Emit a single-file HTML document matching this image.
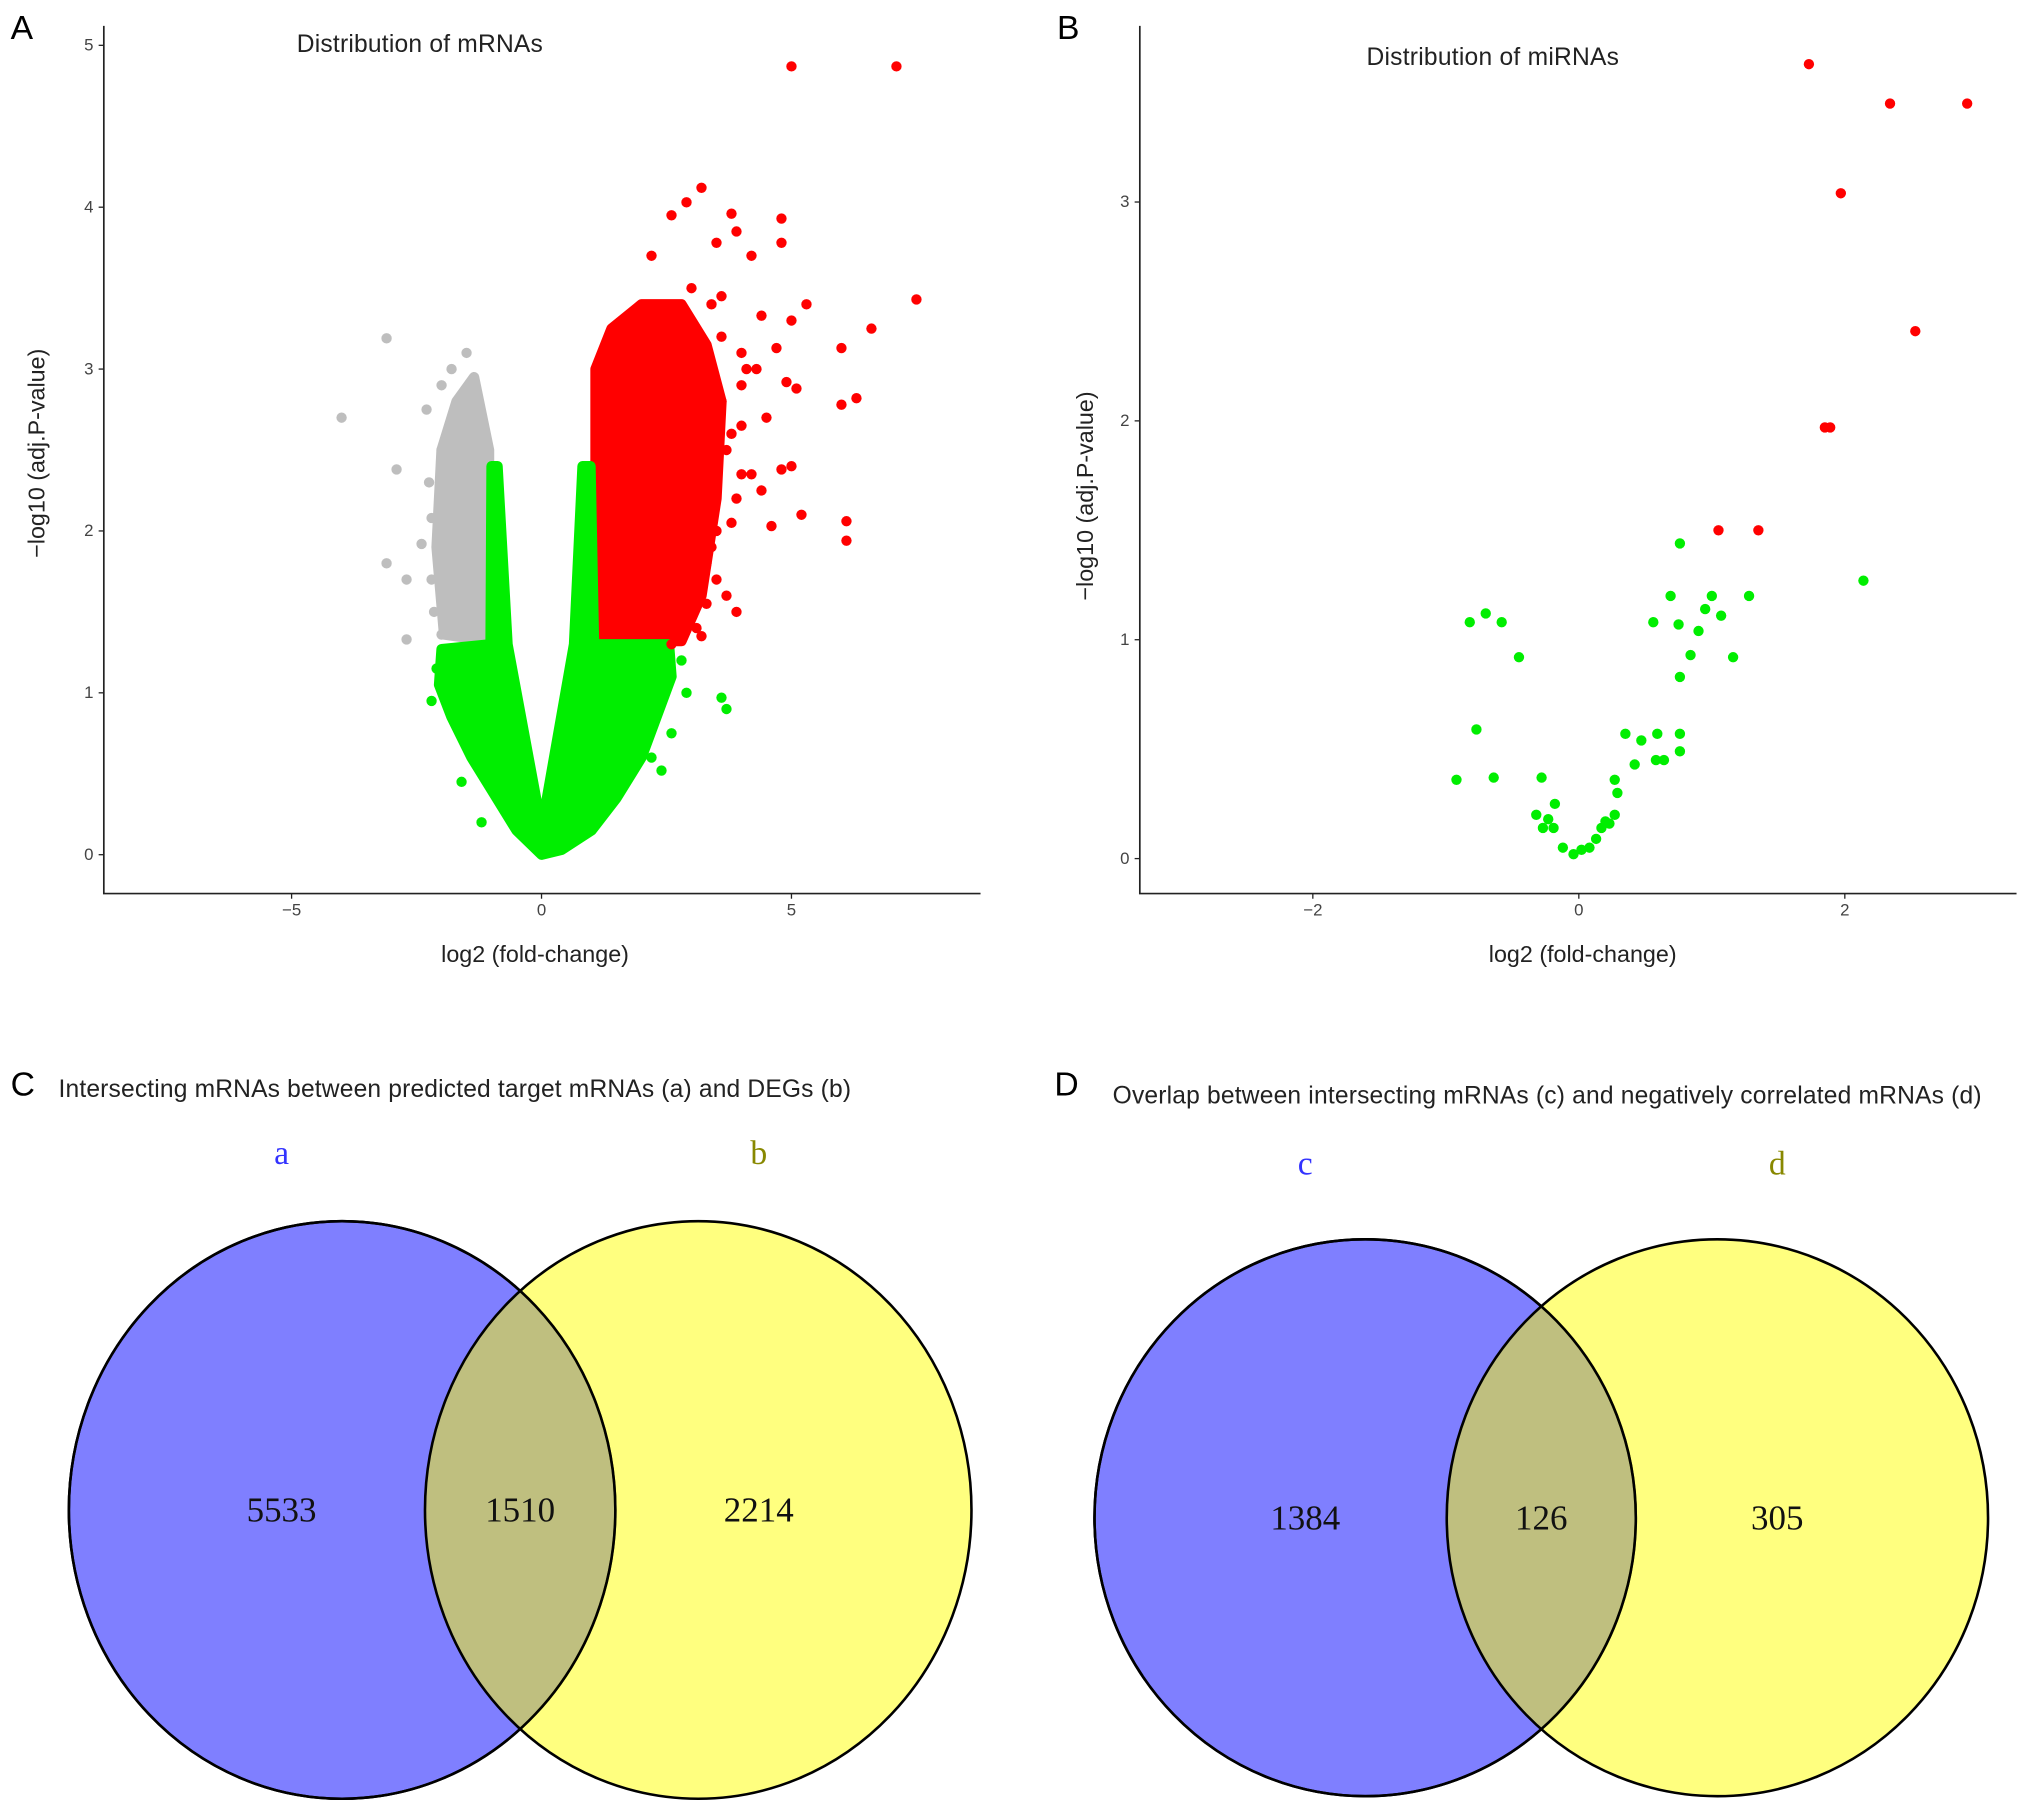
<!DOCTYPE html>
<html><head><meta charset="utf-8"><style>
html,body{margin:0;padding:0;background:#fff;}
svg{display:block;font-family:"Liberation Sans",sans-serif;}
</style></head><body>
<svg id="fig" width="2031" height="1813" viewBox="0 0 1568 1400" xmlns="http://www.w3.org/2000/svg">
<rect width="1568" height="1400" fill="#fff"/>
<text x="8" y="30" font-size="26" fill="#000">A</text>
<text x="816" y="30" font-size="26" fill="#000">B</text>
<text x="8" y="846" font-size="26" fill="#000">C</text>
<text x="814" y="846" font-size="26" fill="#000">D</text>
<text x="229" y="40" font-size="19" fill="#222" textLength="190">Distribution of mRNAs</text>
<text x="1055" y="50" font-size="19" fill="#222" textLength="195">Distribution of miRNAs</text>
<text x="413" y="743" font-size="18" text-anchor="middle" fill="#222">log2  (fold-change)</text>
<text x="1222" y="743" font-size="18" text-anchor="middle" fill="#222">log2  (fold-change)</text>
<text transform="translate(34,350) rotate(-90)" font-size="18" text-anchor="middle" fill="#222">−log10 (adj.P-value)</text>
<text transform="translate(844,383) rotate(-90)" font-size="18" text-anchor="middle" fill="#222">−log10 (adj.P-value)</text>
<text x="45" y="847" font-size="19" fill="#222" textLength="612">Intersecting mRNAs between predicted target mRNAs (a) and DEGs (b)</text>
<text x="859" y="852" font-size="19" fill="#222" textLength="671">Overlap between intersecting mRNAs (c) and negatively correlated mRNAs (d)</text>
<g id="gA"></g>
<g id="gB"></g>
<g id="gV"></g>
</svg>
<script>
// ---- Panel A data (log2FC, -log10 adj.P) ----
const aGreenEnvelope=[[0,0],[-0.5,0.15],[-1,0.4],[-1.4,0.6],[-1.8,0.85],[-2.05,1.05],[-2.0,1.27],[-1.02,1.3],[-1.0,2.4],[-0.88,2.4],[-0.68,1.3],[-0.08,0.3],[0,0.25],[0.08,0.3],[0.65,1.3],[0.82,2.4],[0.98,2.4],[1.05,1.3],[2.55,1.3],[2.6,1.1],[2.3,0.85],[2.0,0.6],[1.5,0.35],[1.0,0.15],[0.4,0.03]];
const aRedEnvelope=[[1.08,1.32],[1.08,3.0],[1.4,3.25],[2.0,3.4],[2.8,3.4],[3.3,3.15],[3.6,2.8],[3.5,2.2],[3.2,1.6],[2.8,1.32]];
const aGreyEnvelope=[[-1.05,1.32],[-1.95,1.36],[-2.1,1.9],[-2.0,2.5],[-1.7,2.8],[-1.35,2.95],[-1.05,2.5]];
const aRedX=[5,7.1,3.2,2.9,2.6,3.8,4.8,4.8,3.5,3.9,7.5,5.3,6.6,5.0,4.4,6.0,4.7,5.1,6.3,6.0,4.9,4.5,4.0,5.0,4.8,5.2,6.1,6.1,4.6,3.9,3.3,3.5,4.0,4.2,3.8,4.0,4.1,3.6,3.4,3.0,2.2,4.2,3.6,3.8,4.4,3.2,3.4,3.1,2.6,3.7,3.9,4.3,3.3,3.7,2.9,3.5,3.6,4.0,3.2,2.7];
const aRedY=[4.87,4.87,4.12,4.03,3.95,3.96,3.93,3.78,3.78,3.85,3.43,3.4,3.25,3.3,3.33,3.13,3.13,2.88,2.82,2.78,2.92,2.7,2.9,2.4,2.38,2.1,2.06,1.94,2.03,1.5,1.55,1.7,2.35,2.35,2.05,3.1,3.0,2.8,3.4,3.5,3.7,3.7,3.2,2.6,2.25,2.2,1.9,1.4,1.3,2.5,2.2,3.0,1.8,1.6,1.5,2.0,3.45,2.65,1.35,1.4];
const aGreyX=[-4,-3.1,-2.9,-3.1,-2.7,-2.7,-2.2,-2.0,-1.5,-2.3,-2.0,-2.4,-2.2,-2.0,-2.25,-2.15,-1.8];
const aGreyY=[2.7,3.19,2.38,1.8,1.7,1.33,2.08,2.5,3.1,2.75,2.9,1.92,1.7,1.36,2.3,1.5,3.0];
const aGreenX=[3.6,3.7,2.8,2.9,2.4,2.6,-2.1,-2.2,-1.6,1.6,2.2,-1.2,1.1];
const aGreenY=[0.97,0.9,1.2,1.0,0.52,0.75,1.15,0.95,0.45,0.45,0.6,0.2,0.2];
const aXTicks=[-5,0,5];
const aYTicks=[0,1,2,3,4,5];
// ---- Panel B data ----
const bRedX=[1.73,2.34,2.92,1.97,2.53,1.85,1.89,1.05,1.35];
const bRedY=[3.63,3.45,3.45,3.04,2.41,1.97,1.97,1.50,1.50];
const bGreenX=[2.14,0.76,1.0,0.69,1.28,0.95,1.07,0.56,0.75,0.90,0.84,1.16,0.76,-0.70,-0.82,-0.58,-0.45,-0.77,-0.92,-0.64,-0.28,0.35,0.59,0.76,0.47,0.42,0.58,0.64,0.76,0.27,0.29,0.27,0.23,0.17,0.13,0.08,-0.04,0.02,-0.12,-0.19,-0.23,-0.32,-0.18,-0.27,0.2];
const bGreenY=[1.27,1.44,1.20,1.20,1.20,1.14,1.11,1.08,1.07,1.04,0.93,0.92,0.83,1.12,1.08,1.08,0.92,0.59,0.36,0.37,0.37,0.57,0.57,0.57,0.54,0.43,0.45,0.45,0.49,0.36,0.30,0.20,0.16,0.14,0.09,0.05,0.02,0.04,0.05,0.14,0.18,0.20,0.25,0.14,0.17];
const bXTicks=[-2,0,2];
const bYTicks=[0,1,2,3];
// ---- Venn data ----
const vennC=[5533,1510,2214];
const vennD=[1384,126,305];

const NS="http://www.w3.org/2000/svg";
function mk(tag,attrs,parent){const e=document.createElementNS(NS,tag);for(const k in attrs)e.setAttribute(k,attrs[k]);parent.appendChild(e);return e;}

function panel(g,cfg){
  const sx=v=>cfg.x0+v*cfg.ux, sy=v=>cfg.y0-v*cfg.uy;
  const ax=mk('path',{d:`M${cfg.left} ${cfg.top}V${cfg.bottom}H${cfg.right}`,stroke:'#222','stroke-width':1.3,fill:'none'},g);
  
  
  cfg.xt.forEach(t=>{
    const l=mk('line',{x1:sx(t),x2:sx(t),y1:cfg.bottom,y2:cfg.bottom+4,stroke:'#222'},g);
    
    
    const tx=mk('text',{x:sx(t),y:cfg.bottom+17,'font-size':13,'text-anchor':'middle',fill:'#444'},g);
    tx.textContent=t<0?'−'+(-t):String(t);
    
    
  });
  cfg.yt.forEach(t=>{
    const l=mk('line',{x1:cfg.left-4,x2:cfg.left,y1:sy(t),y2:sy(t),stroke:'#222'},g);
    
    
    const tx=mk('text',{x:cfg.left-8,y:sy(t)+4,'font-size':13,'text-anchor':'end',fill:'#444'},g);
    tx.textContent=String(t);
    
    
  });
  (cfg.env||[]).forEach(([pts,col,name])=>{
    const p=mk('polygon',{points:pts.map(p=>sx(p[0])+','+sy(p[1])).join(' '),fill:col,stroke:col,'stroke-width':8,'stroke-linejoin':'round'},g);
    
    
  });
  cfg.pts.forEach(([xs,ys,col,name])=>{
    xs.forEach((x,i)=>{
      const c=mk('circle',{cx:sx(x),cy:sy(ys[i]),r:4,fill:col},g);
      
      
    });
  });
}
panel(document.getElementById('gA'),{x0:418,ux:38.6,y0:660,uy:125,left:80,right:757,top:20,bottom:690,xt:aXTicks,yt:aYTicks,
  env:[[aGreyEnvelope,'#bebebe','grey-cloud'],[aRedEnvelope,'#ff0000','red-cloud'],[aGreenEnvelope,'#00ee00','green-cloud']],
  pts:[[aGreyX,aGreyY,'#bebebe','grey-point'],[aRedX,aRedY,'#ff0000','red-point'],[aGreenX,aGreenY,'#00ee00','green-point']]});
panel(document.getElementById('gB'),{x0:1219,ux:102.7,y0:663,uy:169,left:880,right:1557,top:20,bottom:690,xt:bXTicks,yt:bYTicks,
  pts:[[bRedX,bRedY,'#ff0000','red-point'],[bGreenX,bGreenY,'#00ee00','green-point']]});

function venn(g,vals,c1,c2,rx,ry,cy,labs,ly){
  const e1=mk('ellipse',{cx:c1,cy:cy,rx:rx,ry:ry,fill:'#0000ff','fill-opacity':0.5,stroke:'#000','stroke-width':2},g);
  
  
  const e2=mk('ellipse',{cx:c2,cy:cy,rx:rx,ry:ry,fill:'#ffff00','fill-opacity':0.5,stroke:'#000','stroke-width':2},g);
  
  
  const o=mk('ellipse',{cx:c1,cy:cy,rx:rx,ry:ry,fill:'none',stroke:'#000','stroke-width':2},g);
  
  
  const mid=(c1+c2)/2, xs=[c1-(c2-c1)*0.17,mid,c2+(c2-c1)*0.17];
  vals.forEach((v,i)=>{
    const t=mk('text',{x:xs[i],y:cy+9,'font-size':27,'text-anchor':'middle','font-family':'Liberation Serif,serif',fill:'#111'},g);
    t.textContent=String(v);
    
    
  });
  [[labs[0],xs[0],'#3333ff'],[labs[1],xs[2],'#888800']].forEach(([s,x,c])=>{
    const t=mk('text',{x:x,y:ly,'font-size':26,'text-anchor':'middle','font-family':'Liberation Serif,serif',fill:c},g);
    t.textContent=s;
    
    
  });
}
const gV=document.getElementById('gV');
venn(gV,vennC,264,539,211,223,1166,['a','b'],899);
venn(gV,vennD,1054,1326,209,215,1172,['c','d'],907);
</script>
</body></html>
